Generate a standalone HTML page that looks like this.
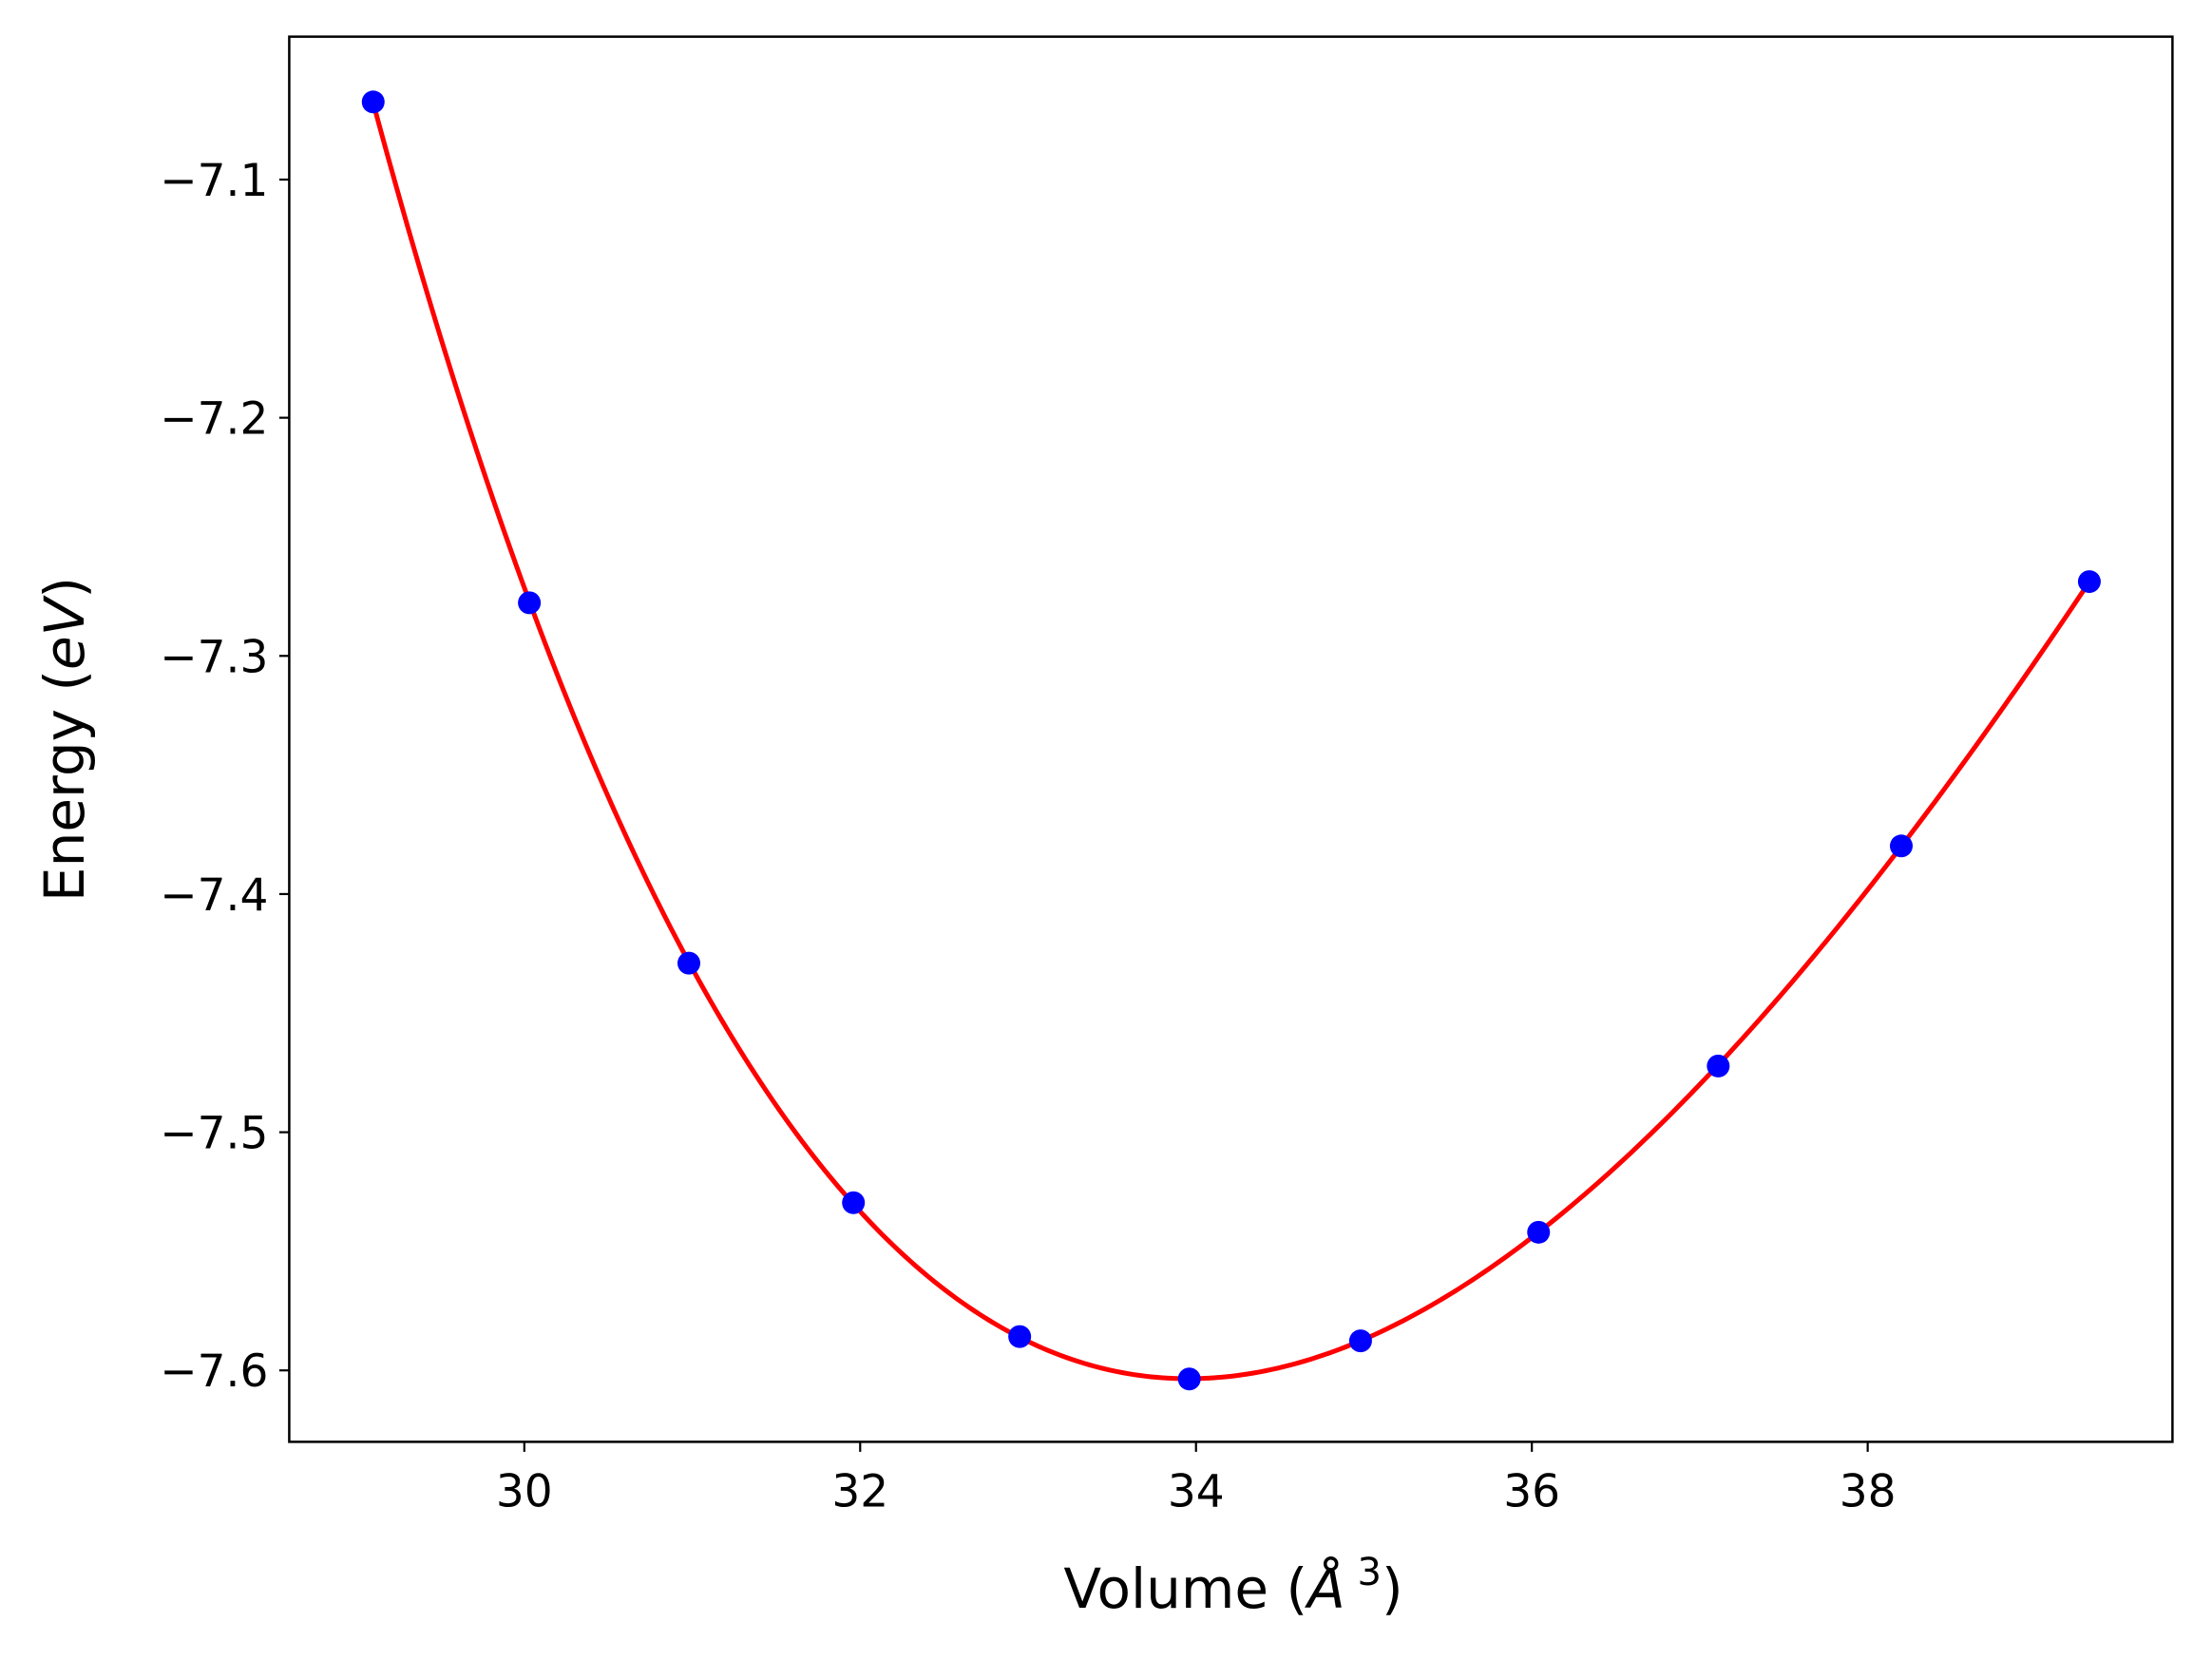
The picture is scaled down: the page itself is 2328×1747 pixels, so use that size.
<!DOCTYPE html>
<html><head><meta charset="utf-8"><style>
html,body{margin:0;padding:0;background:#fff;}
svg{display:block;font-family:"DejaVu Sans","Liberation Sans",sans-serif;}
</style></head><body>
<svg id="chart" width="2328" height="1747" viewBox="0 0 2328 1747" xmlns="http://www.w3.org/2000/svg">
<rect width="2328" height="1747" fill="#fff"/>
<g id="plot"></g>
<text x="1298" y="1692" font-size="58" text-anchor="middle">Volume (<tspan font-style="italic">Å</tspan><tspan font-size="40" dy="-24"> 3</tspan><tspan dy="24">)</tspan></text>
<text transform="translate(88,778) rotate(-90)" font-size="58" text-anchor="middle">Energy (<tspan font-style="italic">eV</tspan>)</text>
</svg>
<script>
const volumes = [29.10, 30.03, 30.98, 31.96, 32.95, 33.96, 34.98, 36.04, 37.11, 38.20, 39.32];
const energies = [-7.0674, -7.2777, -7.4290, -7.5296, -7.5858, -7.6036, -7.5876, -7.5420, -7.4722, -7.3798, -7.2688];
const xTicks = [30, 32, 34, 36, 38];
const yTicks = [-7.1, -7.2, -7.3, -7.4, -7.5, -7.6];
const xDomain = [28.60, 39.815];
const yDomain = [-7.630, -7.040];

const L = 304.4, R = 2286.4, T = 38.6, B = 1517.4;
const NS = 'http://www.w3.org/2000/svg';
const sx = v => L + (v - xDomain[0]) / (xDomain[1] - xDomain[0]) * (R - L);
const sy = v => B - (v - yDomain[0]) / (yDomain[1] - yDomain[0]) * (B - T);
const g = document.getElementById('plot');
function mk(tag, attrs) { const e = document.createElementNS(NS, tag); for (const k in attrs) e.setAttribute(k, attrs[k]); g.appendChild(e); return e; }

const us = volumes.map(v => Math.pow(v, -2/3));
const um = us.reduce((a, b) => a + b, 0) / us.length;
const us2 = us.map(u => (u - um) * 100);
const n = 4, A = [], bv = [];
for (let i = 0; i < n; i++) { A.push(new Array(n).fill(0)); bv.push(0); }
us2.forEach((u, k) => { for (let i = 0; i < n; i++) { bv[i] += Math.pow(u, i) * energies[k]; for (let j = 0; j < n; j++) A[i][j] += Math.pow(u, i + j); } });
for (let i = 0; i < n; i++) { let p = i; for (let r = i + 1; r < n; r++) if (Math.abs(A[r][i]) > Math.abs(A[p][i])) p = r;
  [A[i], A[p]] = [A[p], A[i]]; [bv[i], bv[p]] = [bv[p], bv[i]];
  for (let r = 0; r < n; r++) if (r !== i) { const f = A[r][i] / A[i][i]; for (let c = i; c < n; c++) A[r][c] -= f * A[i][c]; bv[r] -= f * bv[i]; } }
const coef = bv.map((v, i) => v / A[i][i]);
const fit = v => { const u = (Math.pow(v, -2/3) - um) * 100; return coef.reduce((s, c, i) => s + c * Math.pow(u, i), 0); };

const v0 = volumes[0], v1 = volumes[volumes.length - 1];
let d = '';
for (let i = 0; i <= 300; i++) { const v = v0 + (v1 - v0) * i / 300; d += (i ? 'L' : 'M') + sx(v).toFixed(2) + ',' + sy(fit(v)).toFixed(2); }
const line = mk('path', { d: d, fill: 'none', stroke: '#ff0000', 'stroke-width': 5 });



volumes.forEach((v, i) => {
  const c = mk('circle', { cx: sx(v), cy: sy(energies[i]), r: 12, fill: '#0000ff' });
  
  
});

const frame = mk('rect', { x: L, y: T, width: R - L, height: B - T, fill: 'none', stroke: '#000', 'stroke-width': 2.5 });



xTicks.forEach(t => {
  const x = sx(t);
  const tk = mk('line', { x1: x, x2: x, y1: B, y2: B + 10.5, stroke: '#000', 'stroke-width': 2.2 });
  
  
  const tx = mk('text', { x: x, y: B + 68, 'font-size': 47, 'text-anchor': 'middle' });
  tx.textContent = String(t);
  
  
});
yTicks.forEach(t => {
  const y = sy(t);
  const tk = mk('line', { x1: L - 10.5, x2: L, y1: y, y2: y, stroke: '#000', 'stroke-width': 2.2 });
  
  
  const tx = mk('text', { x: L - 22, y: y + 17, 'font-size': 47, 'text-anchor': 'end' });
  tx.textContent = '\u2212' + Math.abs(t).toFixed(1);
  
  
});
</script>
</body></html>
